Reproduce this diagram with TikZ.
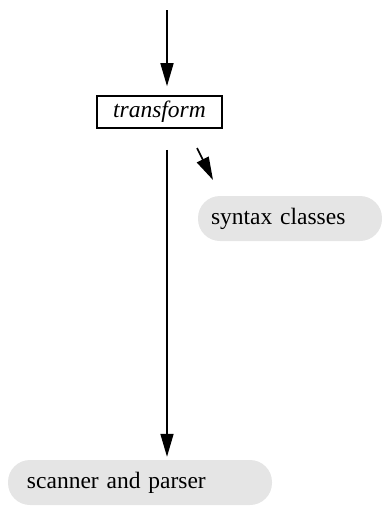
\documentclass[tikz,border=0pt]{standalone}
\usepackage{fontspec}
\setmainfont{Liberation Serif}
\usetikzlibrary{arrows.meta}
\begin{document}
\begin{tikzpicture}[x=1pt,y=-1pt,
  flow/.style={line width=1.6pt,-{Triangle[length=23pt,width=13pt]}},
  boxed/.style={draw,line width=1.6pt,inner sep=0pt,minimum width=125pt,minimum height=32pt,
    font=\fontsize{23.5}{28}\selectfont\itshape},
  pill/.style={fill=black!10,rounded corners=22pt,minimum height=45pt,inner ysep=0pt,
    align=left,font=\fontsize{23.5}{28}\selectfont}]
\useasboundingbox (0,0) rectangle (382,507);
\node[boxed] (t) at (159.5,112) {transform};
\node[pill,inner xsep=13pt,text width=158pt] (sc) at (290,218.5) {syntax classes};
\node[pill,inner xsep=19pt,text width=226pt] (sp) at (140,482.5) {scanner and parser};
\coordinate (in) at (167,10);
\coordinate (s1) at (197,148);
\coordinate (s2) at (213,180);
\draw[flow,shorten >=9pt] (in) -- (in |- t.north);
\draw[flow,shorten <=21pt,shorten >=3pt] (in |- t.south) -- (in |- sp.north);
\draw[flow] (s1) -- (s2);
\end{tikzpicture}
\end{document}
